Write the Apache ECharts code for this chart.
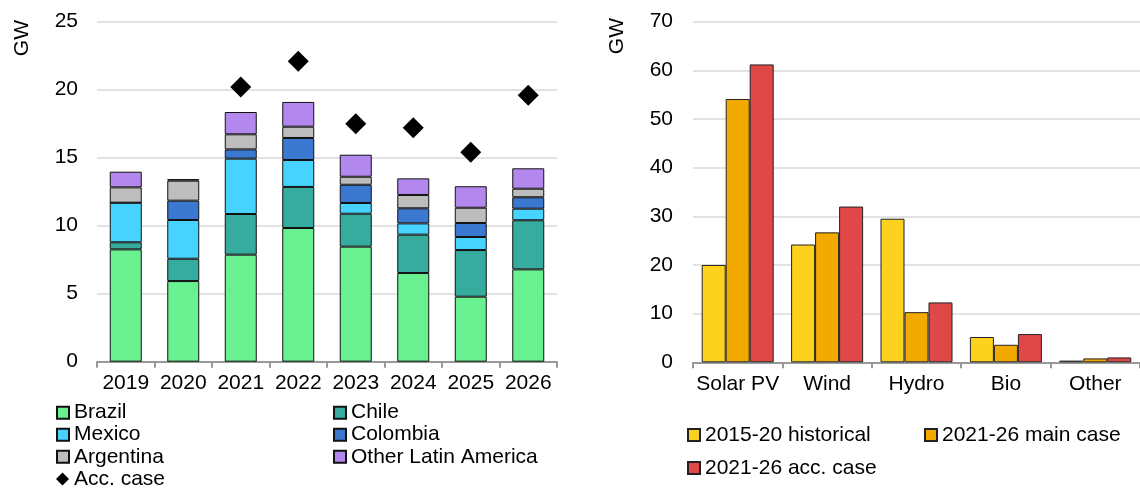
<!DOCTYPE html>
<html>
<head>
<meta charset="utf-8">
<script src="https://cdn.jsdelivr.net/npm/echarts@6/dist/echarts.min.js"></script>
<style>
  html, body { margin: 0; padding: 0; background: #fff; }
  #chart { width: 1140px; height: 489px; }
</style>
</head>
<body>
<div id="chart"></div>
<script>
// left panel: capacity additions by country, GW
const years = ['2019', '2020', '2021', '2022', '2023', '2024', '2025', '2026']
const brazil = [8.26, 5.93, 7.87, 9.83, 8.46, 6.52, 4.78, 6.79]
const chile = [0.52, 1.64, 2.99, 3.02, 2.42, 2.82, 3.43, 3.61]
const mexico = [2.91, 2.85, 4.07, 1.98, 0.79, 0.83, 0.96, 0.85]
const colombia = [0, 1.42, 0.68, 1.62, 1.34, 1.11, 1.03, 0.84]
const argentina = [1.13, 1.47, 1.11, 0.83, 0.59, 0.98, 1.12, 0.63]
const otherLatAm = [1.15, 0.12, 1.64, 1.82, 1.62, 1.22, 1.58, 1.5]
const accCase = ['-', '-', 20.2, 22.1, 17.5, 17.2, 15.4, 19.6]
const leftTicks = [0, 5, 10, 15, 20, 25]

// right panel: by technology, GW
const techs = ['Solar PV', 'Wind', 'Hydro', 'Bio', 'Other']
const hist2015 = [20.0, 24.2, 29.5, 5.2, 0.35]
const main2021 = [54.1, 26.7, 10.3, 3.6, 0.8]
const acc2021 = [61.2, 32.0, 12.3, 5.8, 1.0]
const rightTicks = [0, 10, 20, 30, 40, 50, 60, 70]

const font = 'Liberation Sans, Arial, sans-serif'
const fontSize = 21
const chart = echarts.init(document.getElementById('chart'), null, { renderer: 'canvas' })

function stackBar (name, data, color) {
  return {
    name: name,
    type: 'bar',
    stack: 'total',
    xAxisIndex: 0,
    yAxisIndex: 0,
    barWidth: 32,
    data: data,
    itemStyle: { color: color, borderColor: '#111', borderWidth: 1 }
  }
}

function groupBar (name, data, color) {
  return {
    name: name,
    type: 'bar',
    xAxisIndex: 1,
    yAxisIndex: 1,
    barWidth: 24,
    barGap: '0%',
    data: data,
    itemStyle: { color: color, borderColor: '#222', borderWidth: 1 }
  }
}

function legendItem (name, left, cy, icon) {
  return {
    data: [{ name: name, icon: icon || 'rect' }],
    left: left,
    top: cy - 11,
    padding: 0,
    itemWidth: icon === 'diamond' ? 13 : 12,
    itemHeight: icon === 'diamond' ? 13 : 12,
    selectedMode: false,
    textStyle: { fontFamily: font, fontSize: fontSize, lineHeight: 22, color: '#000' }
  }
}

function catAxis (grid, data) {
  return {
    type: 'category',
    gridIndex: grid,
    data: data,
    axisLine: { lineStyle: { color: '#999', width: 2 } },
    axisTick: { show: true, length: 6, lineStyle: { color: '#999', width: 2 } },
    axisLabel: { interval: 0, hideOverlap: false, fontFamily: font, fontSize: fontSize, color: '#000', margin: 11 }
  }
}

function valAxis (grid, ticks, step, margin) {
  return {
    type: 'value',
    gridIndex: grid,
    min: ticks[0],
    max: ticks[ticks.length - 1],
    interval: step,
    axisLabel: { fontFamily: font, fontSize: fontSize, color: '#000', margin: margin },
    axisLine: { show: false },
    axisTick: { show: false },
    splitLine: { show: true, lineStyle: { color: '#d9d9d9', width: 1.5 } }
  }
}

chart.setOption({
  animation: false,
  grid: [
    { left: 97, right: 583, top: 21.7, bottom: 127.3 },
    { left: 693, right: 0, top: 21.6, bottom: 126.7 }
  ],
  xAxis: [catAxis(0, years), catAxis(1, techs)],
  yAxis: [valAxis(0, leftTicks, 5, 19), valAxis(1, rightTicks, 10, 20)],
  legend: [
    legendItem('Brazil', 56, 412.7),
    legendItem('Mexico', 56, 434.7),
    legendItem('Argentina', 56, 456.8),
    legendItem('Acc. case', 56, 479, 'diamond'),
    legendItem('Chile', 333, 412.7),
    legendItem('Colombia', 333, 434.7),
    legendItem('Other Latin America', 333, 456.8),
    legendItem('2015-20 historical', 687, 435),
    legendItem('2021-26 acc. case', 687, 468),
    legendItem('2021-26 main case', 924, 435)
  ],
  graphic: [
    { type: 'text', left: 12, top: 20, rotation: Math.PI / 2, style: { text: 'GW', fontFamily: font, fontSize: fontSize, fill: '#000' } },
    { type: 'text', left: 607, top: 18, rotation: Math.PI / 2, style: { text: 'GW', fontFamily: font, fontSize: fontSize, fill: '#000' } }
  ],
  series: [
    stackBar('Brazil', brazil, '#69f091'),
    stackBar('Chile', chile, '#36ac9e'),
    stackBar('Mexico', mexico, '#47d3ff'),
    stackBar('Colombia', colombia, '#3b78d0'),
    stackBar('Argentina', argentina, '#bdbdbd'),
    stackBar('Other Latin America', otherLatAm, '#b388ee'),
    {
      name: 'Acc. case',
      type: 'scatter',
      xAxisIndex: 0,
      yAxisIndex: 0,
      symbol: 'diamond',
      symbolSize: 21,
      data: accCase,
      itemStyle: { color: '#000', opacity: 1 },
      z: 5
    },
    groupBar('2015-20 historical', hist2015, '#fcd21e'),
    groupBar('2021-26 main case', main2021, '#f2a900'),
    groupBar('2021-26 acc. case', acc2021, '#e04848')
  ]
})
</script>
</body>
</html>
